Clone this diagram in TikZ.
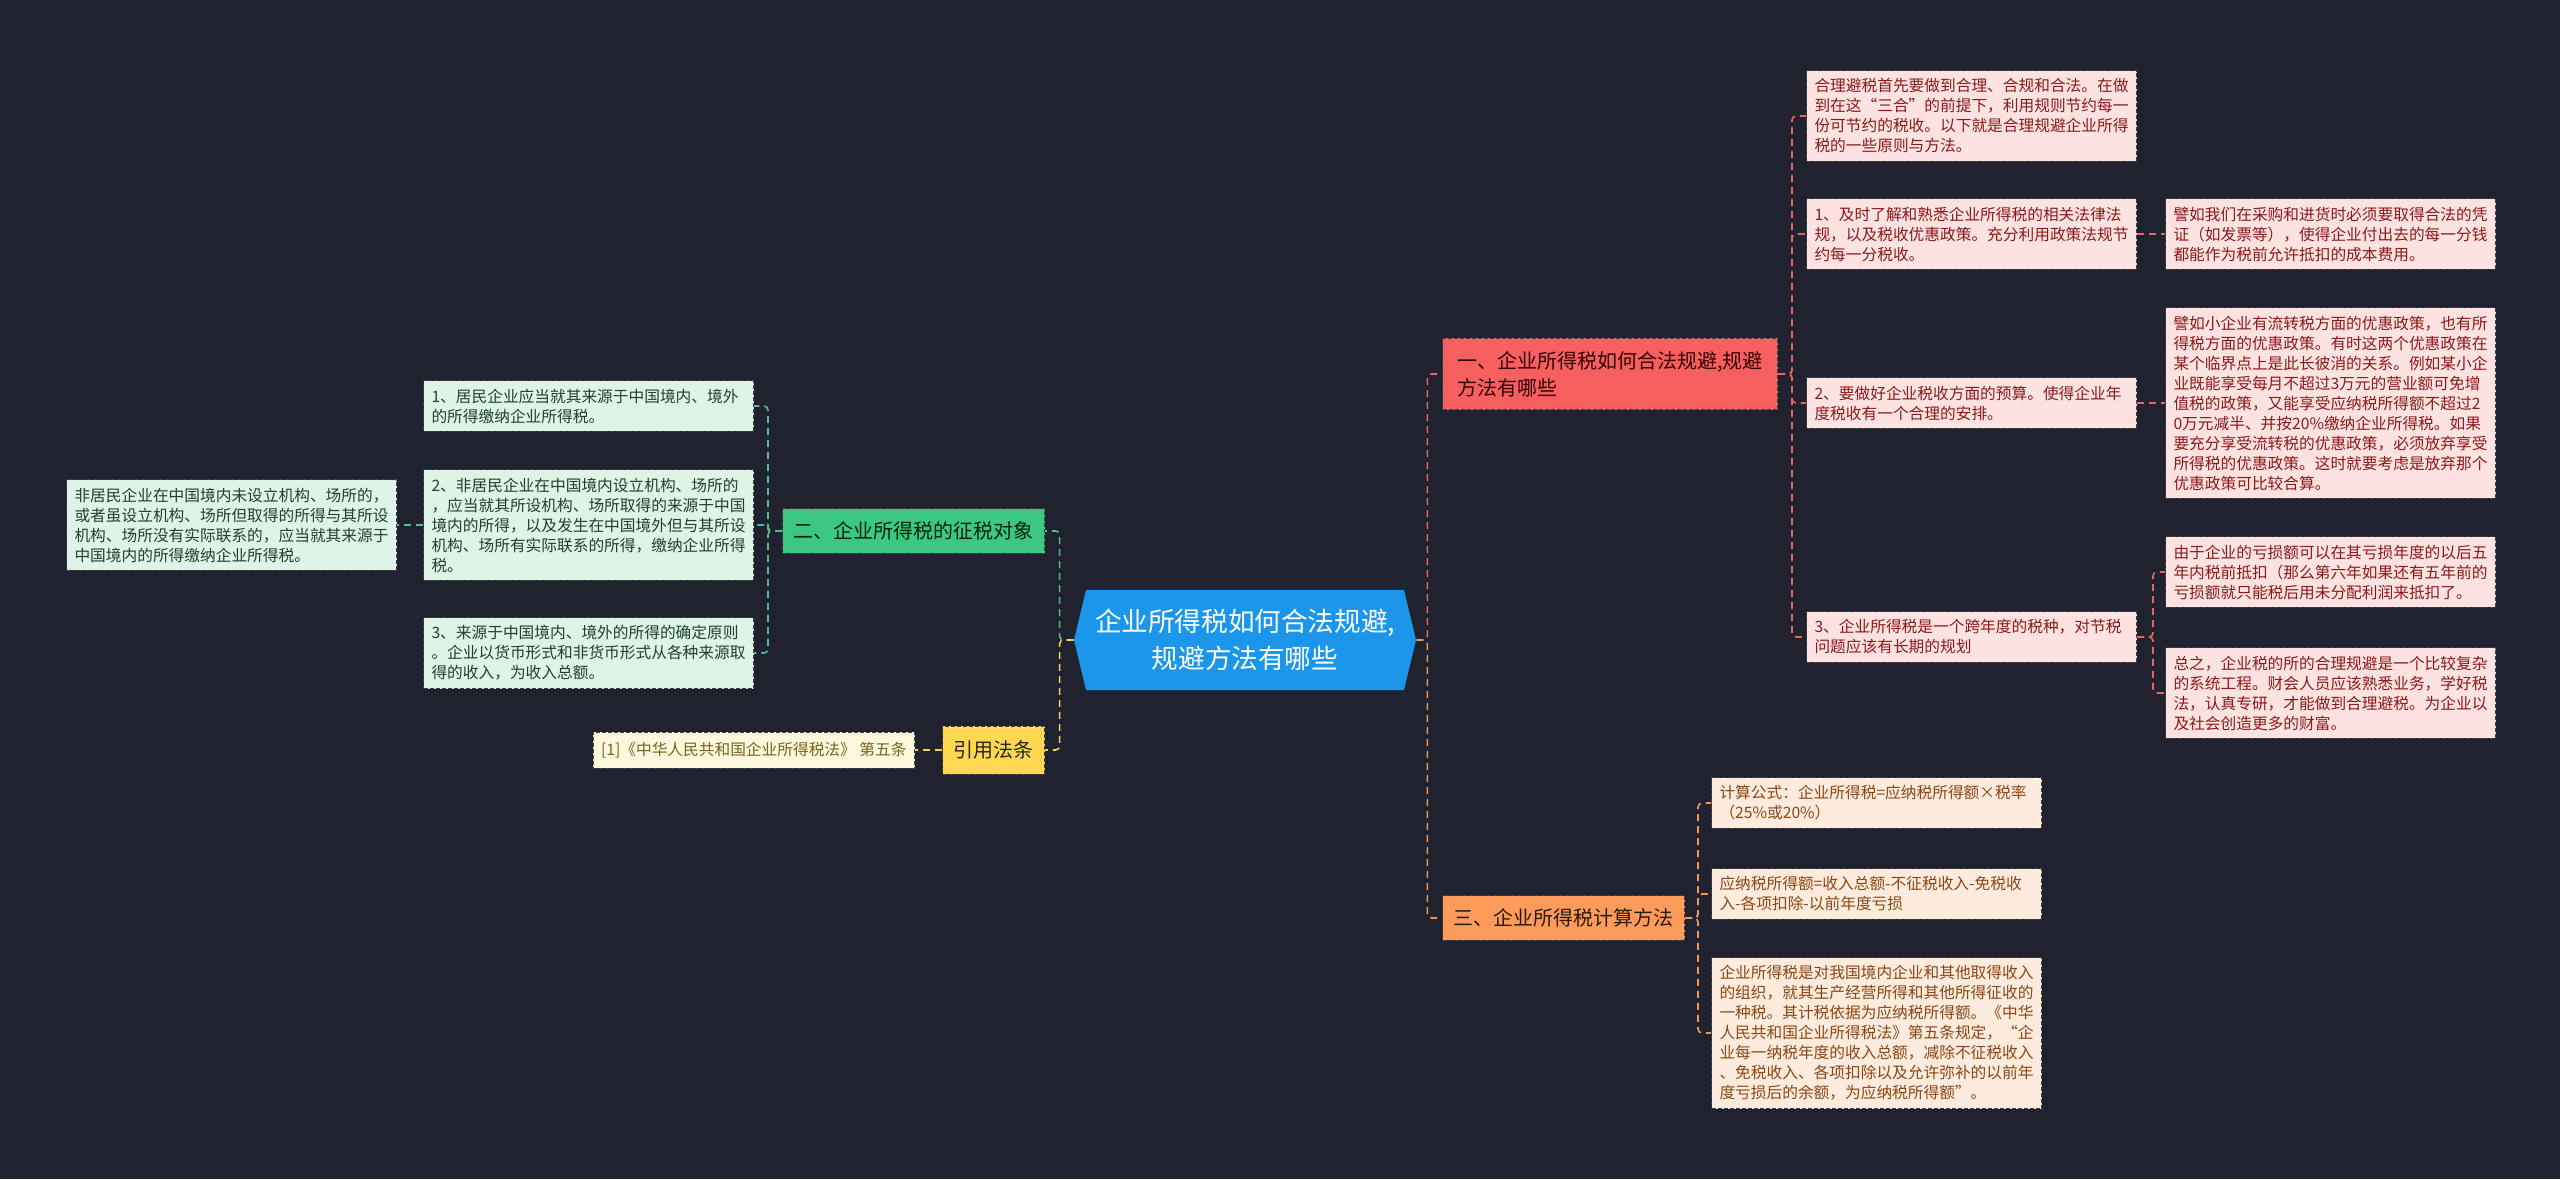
\documentclass[tikz,border=0pt]{standalone}
\usepackage{fontspec}
\setmainfont{Noto Sans CJK SC}
\usetikzlibrary{shapes.symbols}
\definecolor{bgnavy}{RGB}{32,35,47}
\definecolor{rootblue}{RGB}{27,150,235}
\definecolor{brred}{RGB}{245,95,95}
\definecolor{brorange}{RGB}{255,155,90}
\definecolor{brgreen}{RGB}{60,200,130}
\definecolor{bryellow}{RGB}{255,215,80}
\definecolor{lfred}{RGB}{253,226,226}
\definecolor{lforange}{RGB}{253,235,222}
\definecolor{lfgreen}{RGB}{222,244,231}
\definecolor{lfyellow}{RGB}{253,247,222}
\definecolor{inkred}{RGB}{140,25,25}
\definecolor{inkorange}{RGB}{140,70,20}
\definecolor{inkgreen}{RGB}{30,65,45}
\definecolor{inkyellow}{RGB}{120,100,30}
\definecolor{lnred}{RGB}{232,100,100}
\definecolor{lnorange}{RGB}{240,150,90}
\definecolor{lngreen}{RGB}{80,190,140}
\definecolor{lnyellow}{RGB}{240,210,100}
\begin{document}
\begin{tikzpicture}[
    x=0.5pt,y=-0.5pt,
    every node/.style={font=\fontsize{7.85pt}{10pt}\selectfont},
    box/.style={draw=black!75, dash pattern=on 2pt off 1pt, line width=0.5pt},
    leaf/.style={box, align=left, text width=157pt, inner xsep=4pt, inner ysep=4pt},
    redleaf/.style={leaf, fill=lfred, text=inkred},
    orangeleaf/.style={leaf, fill=lforange, text=inkorange},
    greenleaf/.style={leaf, fill=lfgreen, text=inkgreen},
    branch/.style={box, inner xsep=5.5pt, inner ysep=6.5pt, font=\fontsize{10pt}{13.5pt}\selectfont},
    link/.style={dash pattern=on 3.5pt off 2.5pt, line width=0.8pt, rounded corners=2pt}
]
    \useasboundingbox (0,0) rectangle (2560,1179);
    \fill[bgnavy] (0,0) rectangle (2560,1179);

    \node[signal, signal to=west and east, signal pointer angle=153, fill=rootblue, text=white,
        align=center, minimum width=171pt, minimum height=50pt,
        font=\fontsize{13.3pt}{18.5pt}\selectfont] (root) at (1245,640)
        {企业所得税如何合法规避,\\规避方法有哪些};

    \node[branch, fill=brred, text=black!80!red, align=left, minimum width=167.5pt, anchor=west] (taxway) at (1442,374)
        {一、企业所得税如何合法规避,规避\\方法有哪些};
    \node[branch, fill=brorange, text=black!80!brown, anchor=west] (taxcalc) at (1442,918) {三、企业所得税计算方法};
    \node[branch, fill=brgreen, text=black!85!green, anchor=east] (taxobj) at (1045,531) {二、企业所得税的征税对象};
    \node[branch, fill=bryellow, text=black!85, minimum height=24pt, anchor=east] (lawref) at (1045,750) {引用法条};

    \node[redleaf, anchor=west] (way0) at (1806,116)
        {合理避税首先要做到合理、合规和合法。在做\\到在这“三合”的前提下，利用规则节约每一\\份可节约的税收。以下就是合理规避企业所得\\税的一些原则与方法。};
    \node[redleaf, anchor=west] (way1) at (1806,234)
        {1、及时了解和熟悉企业所得税的相关法律法\\规，以及税收优惠政策。充分利用政策法规节\\约每一分税收。};
    \node[redleaf, anchor=west] (way2) at (1806,403)
        {2、要做好企业税收方面的预算。使得企业年\\度税收有一个合理的安排。};
    \node[redleaf, anchor=west] (way3) at (1806,637)
        {3、企业所得税是一个跨年度的税种，对节税\\问题应该有长期的规划};
    \node[redleaf, anchor=west] (way1a) at (2165,234)
        {譬如我们在采购和进货时必须要取得合法的凭\\证（如发票等），使得企业付出去的每一分钱\\都能作为税前允许抵扣的成本费用。};
    \node[redleaf, anchor=west] (way2a) at (2165,403)
        {譬如小企业有流转税方面的优惠政策，也有所\\得税方面的优惠政策。有时这两个优惠政策在\\某个临界点上是此长彼消的关系。例如某小企\\业既能享受每月不超过3万元的营业额可免增\\值税的政策，又能享受应纳税所得额不超过2\\0万元减半、并按20\%缴纳企业所得税。如果\\要充分享受流转税的优惠政策，必须放弃享受\\所得税的优惠政策。这时就要考虑是放弃那个\\优惠政策可比较合算。};
    \node[redleaf, anchor=west] (way3a) at (2165,572)
        {由于企业的亏损额可以在其亏损年度的以后五\\年内税前抵扣（那么第六年如果还有五年前的\\亏损额就只能税后用未分配利润来抵扣了。};
    \node[redleaf, anchor=west] (way3b) at (2165,693)
        {总之，企业税的所的合理规避是一个比较复杂\\的系统工程。财会人员应该熟悉业务，学好税\\法，认真专研，才能做到合理避税。为企业以\\及社会创造更多的财富。};

    \node[orangeleaf, anchor=west] (calc1) at (1711,803)
        {计算公式：企业所得税=应纳税所得额×税率\\（25\%或20\%）};
    \node[orangeleaf, anchor=west] (calc2) at (1711,894)
        {应纳税所得额=收入总额-不征税收入-免税收\\入-各项扣除-以前年度亏损};
    \node[orangeleaf, anchor=west] (calc3) at (1711,1033)
        {企业所得税是对我国境内企业和其他取得收入\\的组织，就其生产经营所得和其他所得征收的\\一种税。其计税依据为应纳税所得额。《中华\\人民共和国企业所得税法》第五条规定，“企\\业每一纳税年度的收入总额，减除不征税收入\\、免税收入、各项扣除以及允许弥补的以前年\\度亏损后的余额，为应纳税所得额”。};

    \node[greenleaf, anchor=east] (obj1) at (754,406)
        {1、居民企业应当就其来源于中国境内、境外\\的所得缴纳企业所得税。};
    \node[greenleaf, anchor=east] (obj2) at (754,525)
        {2、非居民企业在中国境内设立机构、场所的\\，应当就其所设机构、场所取得的来源于中国\\境内的所得，以及发生在中国境外但与其所设\\机构、场所有实际联系的所得，缴纳企业所得\\税。};
    \node[greenleaf, anchor=east] (obj3) at (754,653)
        {3、来源于中国境内、境外的所得的确定原则\\。企业以货币形式和非货币形式从各种来源取\\得的收入，为收入总额。};
    \node[greenleaf, anchor=east] (obj2a) at (397,525)
        {非居民企业在中国境内未设立机构、场所的，\\或者虽设立机构、场所但取得的所得与其所设\\机构、场所没有实际联系的，应当就其来源于\\中国境内的所得缴纳企业所得税。};

    \node[box, fill=lfyellow, text=inkyellow, inner xsep=4pt, inner ysep=5pt, anchor=east] (lawref1) at (915,750)
        {[1]《中华人民共和国企业所得税法》 第五条};

    \draw[link, draw=lnred] (root.east) -- ++(11,0) |- (taxway.west);
    \draw[link, draw=lnorange] (root.east) -- ++(11,0) |- (taxcalc.west);
    \draw[link, draw=lngreen] (root.west) -- ++(-14,0) |- (taxobj.east);
    \draw[link, draw=lnyellow] (root.west) -- ++(-14,0) |- (lawref.east);

    \foreach \n in {way0,way1,way2,way3} {
        \draw[link, draw=lnred] (taxway.east) -- ++(14,0) |- (\n.west);
    }
    \draw[link, draw=lnred] (way1.east) -- (way1a.west);
    \draw[link, draw=lnred] (way2.east) -- (way2a.west);
    \foreach \n in {way3a,way3b} {
        \draw[link, draw=lnred] (way3.east) -- ++(16,0) |- (\n.west);
    }
    \foreach \n in {calc1,calc2,calc3} {
        \draw[link, draw=lnorange] (taxcalc.east) -- ++(13,0) |- (\n.west);
    }
    \foreach \n in {obj1,obj2,obj3} {
        \draw[link, draw=lngreen] (taxobj.west) -- ++(-14,0) |- (\n.east);
    }
    \draw[link, draw=lngreen] (obj2.west) -- (obj2a.east);
    \draw[link, draw=lnyellow] (lawref.west) -- (lawref1.east);
\end{tikzpicture}
\end{document}
